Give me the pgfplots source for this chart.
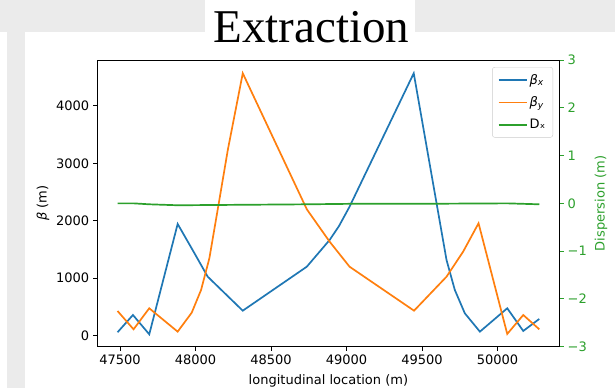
\documentclass[border=0pt]{standalone}
\usepackage{pgfplots}
\pgfplotsset{compat=1.18}
\usepackage{fontspec}
\setmainfont{DejaVu Sans}
\newfontfamily\titlefont{Liberation Serif}
\definecolor{tabblue}{HTML}{1F77B4}
\definecolor{taborange}{HTML}{FF7F0E}
\definecolor{tabgreen}{HTML}{2CA02C}
\definecolor{bggray}{HTML}{EBEBEB}
\begin{document}
\fontsize{13bp}{15.6bp}\selectfont
\begin{tikzpicture}
\useasboundingbox (0,0) rectangle (615bp,388bp);
\fill[bggray] (0,0) rectangle (615bp,388bp);
\fill[white] (0,0) rectangle (615bp,356bp);
\fill[bggray] (7bp,0) rectangle (25bp,356bp);
\fill[white] (205bp,340bp) rectangle (415bp,388bp);
\node[font=\titlefont\fontsize{47bp}{50bp}\selectfont, anchor=base, inner sep=0pt] at (311.5bp,345bp) {Extraction};
\pgfplotsset{
  common/.style={
    at={(97.3bp,41.3bp)}, anchor=south west, scale only axis,
    width=462.2bp, height=286.7bp,
    xmin=47350, xmax=50410,
    tick align=outside, major tick length=4bp,
    /pgf/number format/assume math mode=true,
    /pgf/number format/1000 sep={},
    scaled ticks=false,
    axis line style={line width=0.9bp},
    tick style={line width=0.9bp},
  }
}
\begin{axis}[
  common,
  ymin=-192, ymax=4800,
  xtick={47500,48000,48500,49000,49500,50000},
  ytick={0,1000,2000,3000,4000},
  tick pos=left,
  tick style={black},
  xticklabel style={inner sep=0pt, anchor=north, yshift=-4bp},
  yticklabel style={inner sep=0pt, anchor=east, xshift=-4bp},
  xlabel={longitudinal location (m)},
  ylabel={{\itshape β} (m)},
  xlabel style={at={(axis description cs:0.5,-0.1318)}, anchor=base, inner sep=0pt},
  ylabel style={at={(axis description cs:-0.1175,0.5)}, anchor=center, inner sep=0pt},
]
\addplot[tabblue, line width=1.7bp] coordinates {
(47484,59) (47586,360) (47694,24) (47882,1945) (47981,1492) (48081,1027)
(48313,435) (48737,1201) (48888,1666) (48950,1908) (49020,2246) (49445,4569)
(49662,1318) (49717,795) (49783,390) (49883,70) (50064,477) (50170,82) (50276,291)
};
\addplot[taborange, line width=1.7bp] coordinates {
(47484,430) (47590,111) (47694,477) (47882,70) (47975,400) (48037,796)
(48092,1348) (48158,2363) (48214,3234) (48313,4569) (48737,2201) (48888,1637)
(49020,1201) (49447,435) (49662,1027) (49772,1463) (49874,1957) (50064,30)
(50170,360) (50276,111)
};
\end{axis}
\begin{axis}[
  common,
  ymin=-3, ymax=3,
  axis x line=none,
  axis y line*=right,
  ytick={-3,-2,-1,0,1,2,3},
  yticklabels={−3,−2,−1,0,1,2,3},
  ytick style={tabgreen},
  yticklabel style={tabgreen, inner sep=0pt, anchor=west, xshift=4bp},
  ylabel={Dispersion (m)},
  ylabel style={tabgreen, at={(axis description cs:1.09,0.5)}, anchor=center, inner sep=0pt},
  legend cell align=left,
  legend image code/.code={\draw[line width=1.7bp,#1] (0bp,0bp) -- (28bp,0bp);},
  legend style={at={(1,1)}, anchor=north east, xshift=-6.5bp, yshift=-7bp,
    draw=black!20, rounded corners=2.5bp, fill=white, fill opacity=0.8, text opacity=1,
    inner xsep=5.5bp, inner ysep=5bp, row sep=6.5bp,
    /tikz/every even column/.append style={column sep=10bp}},
]
\addlegendimage{tabblue}
\addlegendentry{{\itshape β}\textsubscript{\itshape x}}
\addlegendimage{taborange}
\addlegendentry{{\itshape β}\textsubscript{\itshape y}}
\addplot[tabgreen, line width=1.7bp] coordinates {
(47484,0.00) (47590,0.00) (47694,-0.02) (47882,-0.04) (48313,-0.03)
(48737,-0.02) (49020,-0.01) (49445,-0.01) (50064,0.0) (50276,-0.02)
};
\addlegendentry{Dₓ}
\end{axis}
\end{tikzpicture}
\end{document}
